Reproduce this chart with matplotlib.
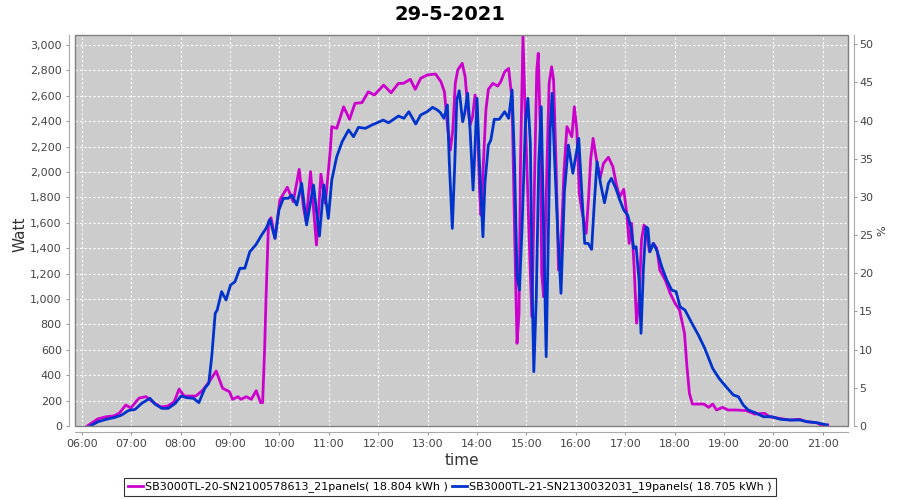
import matplotlib
matplotlib.use("Agg")
import matplotlib.pyplot as plt
from matplotlib.ticker import FuncFormatter, MultipleLocator
from matplotlib.patches import Rectangle

# power of the two inverters, time in decimal hours
t_sb20 = [6.11, 6.32, 6.49, 6.65, 6.76, 6.89, 6.99, 7.16, 7.30, 7.47, 7.60, 7.74, 7.87, 7.97,
          8.07, 8.31, 8.45, 8.58, 8.72, 8.85, 8.99, 9.05, 9.16, 9.22, 9.33, 9.43, 9.53, 9.62,
          9.66, 9.70, 9.73, 9.78, 9.83, 9.91, 10.01, 10.16, 10.28, 10.40, 10.49, 10.54, 10.63,
          10.75, 10.84, 10.93, 11.03, 11.06, 11.16, 11.30, 11.42, 11.53, 11.67, 11.80, 11.92,
          12.11, 12.26, 12.41, 12.51, 12.65, 12.75, 12.86, 12.99, 13.16, 13.27, 13.34, 13.41,
          13.46, 13.51, 13.56, 13.61, 13.70, 13.76, 13.81, 13.86, 13.91, 13.96, 14.00, 14.05,
          14.08, 14.13, 14.18, 14.23, 14.32, 14.42, 14.48, 14.56, 14.64, 14.71, 14.76, 14.81,
          14.85, 14.88, 14.93, 14.98, 15.05, 15.11, 15.16, 15.21, 15.24, 15.28, 15.31, 15.35,
          15.40, 15.46, 15.51, 15.55, 15.60, 15.65, 15.70, 15.76, 15.82, 15.92, 15.97, 16.02,
          16.07, 16.12, 16.21, 16.26, 16.30, 16.35, 16.42, 16.49, 16.56, 16.66, 16.75, 16.83,
          16.89, 16.97, 17.03, 17.08, 17.13, 17.18, 17.23, 17.28, 17.33, 17.38, 17.43, 17.49,
          17.57, 17.64, 17.70, 17.81, 17.91, 18.01, 18.10, 18.20, 18.25, 18.30, 18.36, 18.49,
          18.59, 18.69, 18.77, 18.85, 18.97, 19.08, 19.25, 19.45, 19.62, 19.82, 19.92, 20.12,
          20.33, 20.53, 20.67, 20.87, 20.97, 21.10]
w_sb20 = [0, 55, 73, 79, 102, 165, 142, 220, 231, 181, 150, 157, 191, 291,
          236, 236, 283, 349, 433, 297, 270, 210, 231, 210, 231, 210, 278, 184,
          184, 600, 1018, 1609, 1640, 1478, 1780, 1880, 1766, 2021, 1714, 1609, 2003,
          1425, 1984, 1753, 2173, 2357, 2344, 2514, 2415, 2541, 2546, 2632, 2606,
          2685, 2624, 2698, 2698, 2730, 2651, 2738, 2764, 2772, 2711, 2632, 2331,
          2173, 2331, 2698, 2803, 2856, 2750, 2514, 2370, 2435, 2606, 2514, 1858,
          1661, 2068, 2488, 2651, 2698, 2677, 2711, 2790, 2816, 2567, 1543, 651,
          887, 2068, 3070, 2409, 1543, 861, 1858, 2803, 2935, 2331, 1202, 1018,
          1806, 2698, 2829, 2725, 2068, 1228, 1412, 2000, 2357, 2278, 2514, 2331,
          1832, 1701, 1517, 1806, 2100, 2265, 2094, 1950, 2068, 2116, 2042, 1884,
          1806, 1864, 1675, 1438, 1596, 1254, 809, 992, 1465, 1583, 1530, 1372,
          1438, 1399, 1228, 1150, 1045, 966, 913, 730, 467, 257, 173, 173,
          173, 147, 173, 126, 147, 126, 126, 121, 94, 100, 73, 60,
          47, 53, 34, 26, 8, 8]

t_sb21 = [6.17, 6.33, 6.50, 6.67, 6.81, 6.94, 7.08, 7.21, 7.38, 7.48, 7.62, 7.75, 7.89, 8.01,
          8.12, 8.26, 8.37, 8.49, 8.57, 8.63, 8.70, 8.74, 8.83, 8.92, 9.01, 9.10, 9.20, 9.30,
          9.40, 9.52, 9.64, 9.73, 9.81, 9.91, 9.99, 10.08, 10.18, 10.25, 10.35, 10.45, 10.55,
          10.69, 10.81, 10.90, 10.99, 11.06, 11.16, 11.27, 11.40, 11.50, 11.60, 11.74, 11.87,
          11.98, 12.10, 12.21, 12.31, 12.41, 12.52, 12.62, 12.76, 12.86, 12.99, 13.10, 13.20,
          13.26, 13.33, 13.40, 13.44, 13.50, 13.55, 13.59, 13.64, 13.71, 13.75, 13.81, 13.86,
          13.92, 13.96, 14.00, 14.05, 14.12, 14.16, 14.23, 14.28, 14.35, 14.45, 14.56, 14.64,
          14.71, 14.76, 14.81, 14.86, 14.91, 14.98, 15.03, 15.08, 15.12, 15.15, 15.20, 15.25,
          15.30, 15.35, 15.40, 15.44, 15.48, 15.52, 15.56, 15.63, 15.70, 15.77, 15.85, 15.94,
          16.01, 16.06, 16.11, 16.18, 16.25, 16.32, 16.37, 16.43, 16.50, 16.58, 16.66, 16.72,
          16.81, 16.89, 16.97, 17.05, 17.12, 17.17, 17.22, 17.28, 17.32, 17.37, 17.42, 17.46,
          17.50, 17.57, 17.65, 17.74, 17.84, 17.94, 18.03, 18.11, 18.21, 18.35, 18.48, 18.61,
          18.77, 18.90, 19.04, 19.19, 19.29, 19.39, 19.49, 19.63, 19.80, 19.97, 20.14, 20.34,
          20.54, 20.68, 20.88, 21.08]
w_sb21 = [0, 34, 53, 68, 87, 121, 131, 178, 218, 173, 139, 139, 178, 236,
          223, 218, 184, 297, 336, 546, 887, 913, 1058, 992, 1110, 1136, 1242, 1242,
          1372, 1425, 1504, 1556, 1627, 1478, 1701, 1793, 1793, 1819, 1740, 1911, 1583,
          1898, 1496, 1898, 1635, 1937, 2120, 2239, 2331, 2278, 2352, 2344, 2370,
          2388, 2409, 2388, 2415, 2441, 2423, 2475, 2378, 2449, 2475, 2509, 2488,
          2467, 2423, 2528, 2068, 1556, 2068, 2567, 2640, 2396, 2462, 2620, 2331,
          1858, 2199, 2580, 2068, 1490, 1911, 2212, 2252, 2415, 2415, 2475, 2423,
          2646, 2068, 1176, 1071, 1543, 2383, 2580, 2226, 1018, 428, 1018, 2068,
          2514, 1543, 546, 1412, 2331, 2620, 2199, 1569, 1045, 1850, 2212, 1990,
          2147, 2265, 1911, 1438, 1438, 1391, 1727, 2081, 1911, 1758, 1911, 1950,
          1872, 1780, 1701, 1661, 1556, 1399, 1412, 1150, 730, 1254, 1569, 1556,
          1372, 1438, 1372, 1254, 1150, 1071, 1058, 939, 913, 809, 717, 612,
          454, 375, 310, 244, 231, 165, 126, 105, 73, 73, 53, 47,
          47, 34, 26, 8]

label_sb20 = "SB3000TL-20-SN2100578613_21panels( 18.804 kWh )"
label_sb21 = "SB3000TL-21-SN2130032031_19panels( 18.705 kWh )"
hour_ticks = list(range(6, 22))

fig = plt.figure(figsize=(9, 5), dpi=100)
ax = fig.add_axes([75 / 900, 74 / 500, 773 / 900, 391 / 500])
ax.set_facecolor('#cccccc')

ax.plot(t_sb20, w_sb20, color='#cc00cc', lw=2, label=label_sb20, zorder=3)
ax.plot(t_sb21, w_sb21, color='#0033cc', lw=2, label=label_sb21, zorder=3)

ax.set_xlim(5.862, 21.51)
ax.set_ylim(0, 3079)
ax.set_xticks(hour_ticks)
ax.xaxis.set_major_formatter(FuncFormatter(lambda v, p: "%02d:00" % int(round(v))))
ax.yaxis.set_major_locator(MultipleLocator(200))
ax.yaxis.set_major_formatter(FuncFormatter(lambda v, p: "{:,.0f}".format(v)))
ax.grid(True, color='white', lw=0.8, ls=(0, (2, 2)))
ax.set_axisbelow(True)

# right axis, empty percent scale
ax2 = ax.twinx()
ax2.set_ylim(0, 51.2)
ax2.yaxis.set_major_locator(MultipleLocator(5))

for a in (ax, ax2):
    for s in a.spines.values():
        s.set_visible(False)
    a.tick_params(colors='#444444', labelsize=8, length=2, width=0.8)
    a.tick_params(axis='both', color='#999999')
ax2.tick_params(axis='y', pad=2)

ax.spines['left'].set_visible(True)
ax.spines['left'].set_position(('outward', 4))
ax.spines['left'].set_color('#aaaaaa')
ax.spines['bottom'].set_visible(True)
ax.spines['bottom'].set_position(('outward', 4))
ax.spines['bottom'].set_color('#aaaaaa')
ax2.spines['right'].set_visible(True)
ax2.spines['right'].set_position(('outward', 4))
ax2.spines['right'].set_color('#aaaaaa')

# plot outline
ax.add_patch(Rectangle((0, 0), 1, 1, transform=ax.transAxes, fill=False,
                       edgecolor='#808080', lw=1, zorder=5, clip_on=False))

ax.set_ylabel("Watt", fontsize=11, color='#333333')
ax.yaxis.set_label_coords(-0.061, 0.49)
ax.set_xlabel("time", fontsize=11, color='#333333')
ax.xaxis.set_label_coords(0.5, -0.07)
ax2.set_ylabel("%", fontsize=8, color='#333333')
ax2.yaxis.set_label_coords(1.038, 0.5)

fig.text(0.5, 0.972, "29-5-2021", ha='center', va='center', fontsize=14, fontweight='bold')

leg = fig.legend(loc='center', bbox_to_anchor=(0.5, 1 - 487 / 500), ncol=2, fontsize=8,
                 frameon=True, fancybox=False, edgecolor='black', handlelength=1.3,
                 handletextpad=0.2, columnspacing=0.4, borderpad=0.35)
leg.get_frame().set_linewidth(0.8)

fig.savefig("out.png", dpi=100, facecolor='white')
